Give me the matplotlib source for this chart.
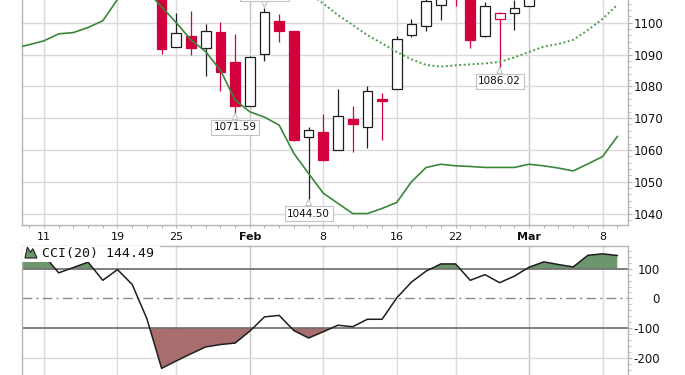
import numpy as np
import matplotlib
matplotlib.use("Agg")
import matplotlib.pyplot as plt
from matplotlib.patches import Rectangle, Polygon

# S&P 500 daily bars, Jan 7 - Mar 9 2010
days = ["Jan 7", "Jan 8", "Jan 11", "Jan 12", "Jan 13", "Jan 14", "Jan 15", "Jan 19",
        "Jan 20", "Jan 21", "Jan 22", "Jan 25", "Jan 26", "Jan 27", "Jan 28", "Jan 29",
        "Feb 1", "Feb 2", "Feb 3", "Feb 4", "Feb 5", "Feb 8", "Feb 9", "Feb 10",
        "Feb 11", "Feb 12", "Feb 16", "Feb 17", "Feb 18", "Feb 19", "Feb 22", "Feb 23",
        "Feb 24", "Feb 25", "Feb 26", "Mar 1", "Mar 2", "Mar 3", "Mar 4", "Mar 5",
        "Mar 8", "Mar 9"]
opens = [1136.27, 1140.52, 1145.96, 1143.81, 1137.31, 1145.68, 1147.72, 1136.03,
         1147.95, 1138.68, 1115.49, 1092.40, 1095.80, 1091.94, 1096.93, 1087.61,
         1073.89, 1090.05, 1100.67, 1097.25, 1064.12, 1065.51, 1060.06, 1069.68,
         1067.10, 1075.95, 1079.13, 1096.14, 1099.03, 1105.49, 1110.00, 1107.49,
         1095.89, 1101.24, 1103.10, 1105.36, 1117.01, 1119.36, 1119.12, 1125.12,
         1138.40, 1137.56]
highs = [1142.46, 1145.39, 1149.74, 1143.81, 1148.40, 1150.41, 1147.77, 1150.45,
         1147.95, 1141.58, 1115.49, 1102.97, 1103.69, 1099.51, 1100.22, 1096.45,
         1089.38, 1104.73, 1102.72, 1097.25, 1067.13, 1071.20, 1079.28, 1073.67,
         1080.04, 1077.81, 1095.67, 1101.03, 1108.24, 1112.42, 1112.29, 1108.58,
         1106.42, 1103.50, 1107.24, 1116.11, 1123.46, 1125.64, 1123.73, 1139.38,
         1141.05, 1145.37]
lows = [1131.32, 1136.22, 1142.02, 1131.77, 1133.18, 1143.80, 1131.39, 1135.77,
        1129.25, 1114.84, 1090.18, 1092.40, 1089.86, 1083.11, 1078.46, 1071.59,
        1073.89, 1087.96, 1093.97, 1062.78, 1044.50, 1056.51, 1060.06, 1059.34,
        1060.59, 1062.97, 1079.13, 1095.57, 1097.48, 1100.80, 1105.38, 1092.18,
        1095.50, 1086.02, 1097.56, 1105.36, 1116.51, 1116.58, 1116.66, 1125.12,
        1136.77, 1134.90]
closes = [1141.69, 1144.98, 1146.98, 1136.22, 1145.68, 1148.46, 1136.03, 1150.23,
          1138.04, 1116.48, 1091.76, 1096.78, 1092.17, 1097.50, 1084.53, 1073.87,
          1089.19, 1103.32, 1097.28, 1063.11, 1066.19, 1056.74, 1070.52, 1068.13,
          1078.47, 1075.51, 1094.87, 1099.51, 1106.75, 1109.17, 1108.01, 1094.60,
          1105.24, 1102.94, 1104.49, 1115.71, 1118.31, 1118.79, 1122.97, 1138.70,
          1138.50, 1140.45]

# Bollinger bands (20,2)
bb_lower = [1092.0, 1093.1, 1094.3, 1096.5, 1096.9, 1098.5, 1100.6, 1107.3,
            1112.0, 1110.0, 1105.0, 1100.0, 1094.6, 1090.9, 1085.1, 1075.7,
            1072.0, 1070.3, 1067.8, 1058.9, 1052.6, 1046.4, 1043.2, 1040.0,
            1040.0, 1041.6, 1043.5, 1050.0, 1054.5, 1055.5, 1055.0, 1054.8,
            1054.5, 1054.5, 1054.5, 1055.5, 1055.0, 1054.3, 1053.4, 1055.6,
            1057.9, 1064.2]
bb_middle = [1120.0, 1122.0, 1124.0, 1126.0, 1128.0, 1130.0, 1131.0, 1133.0,
             1134.0, 1134.0, 1133.0, 1131.0, 1129.0, 1127.0, 1124.0, 1121.0,
             1118.0, 1116.0, 1114.0, 1112.0, 1109.6, 1106.0, 1102.4, 1099.3,
             1096.1, 1093.5, 1090.8, 1088.5, 1086.7, 1086.2, 1086.6, 1086.9,
             1087.2, 1087.7, 1089.1, 1090.8, 1092.5, 1093.3, 1094.6, 1097.7,
             1101.2, 1105.6]

cci = [135, 150, 145, 86, 104, 122, 61, 97,
       47, -68, -235, -210, -186, -163, -155, -150,
       -110, -62, -57, -108, -133, -112, -90, -95,
       -70, -70, 2, 55, 92, 116, 116, 61,
       80, 53, 75, 105, 123, 114, 106, 145,
       150, 144.49]

tick_days = ["Jan 11", "Jan 19", "Jan 25", "Feb 1", "Feb 8", "Feb 16", "Feb 22", "Mar 1", "Mar 8"]
tick_labels = ["11", "19", "25", "Feb", "8", "16", "22", "Mar", "8"]
marked_lows = ["Jan 29", "Feb 5", "Feb 25"]
marked_highs = ["Feb 2"]

RED = "#d2003c"
BLACK = "#1e1e1e"
GREEN = "#3a873a"
GRID = "#dadada"
FRAME = "#b4b4b4"

plt.rcParams["axes.unicode_minus"] = False
plt.rcParams["font.family"] = "DejaVu Sans"

W, H = 685, 375
fig = plt.figure(figsize=(W / 100, H / 100), dpi=100)
left, right = 21.5, 627.7
ax = fig.add_axes([left / W, (H - 225) / H, (right - left) / W, 225 / H])
ax2 = fig.add_axes([left / W, (H - 385) / H, (right - left) / W, (385 - 245.5) / H], sharex=ax)

x = np.arange(len(days))
o, h, l, c = map(np.array, (opens, highs, lows, closes))
prev = np.r_[c[0], c[:-1]]
edge = [BLACK if c[i] >= prev[i] else RED for i in range(len(x))]
face = [edge[i] if c[i] < o[i] else "white" for i in range(len(x))]
tick_pos = [days.index(d) for d in tick_days]

# price panel
for p, lab in zip(tick_pos, tick_labels):
    strong = lab in ("Feb", "Mar")
    ax.axvline(p, color="#c6c6c6" if strong else GRID, lw=1.0, zorder=0)
    ax2.axvline(p, color="#c6c6c6" if strong else GRID, lw=1.0, zorder=0)
for v in range(1040, 1101, 10):
    ax.axhline(v, color=GRID, lw=1.0, zorder=0)

ax.vlines(x, l, h, colors=edge, lw=0.9, zorder=3)
ax.bar(x, np.maximum(np.abs(c - o), 0.3), bottom=np.minimum(o, c), width=0.66,
       color=face, edgecolor=edge, linewidth=0.9, zorder=4)
ax.plot(x, bb_lower, color=GREEN, lw=1.2, zorder=5)
ax.plot(x, bb_middle, color="#4e9a4e", lw=1.4, ls=(0, (1, 1.3)), zorder=5)

box = dict(boxstyle="square,pad=0.25", fc="white", ec="#c4c4c4", lw=0.8)
arrow = dict(arrowstyle="wedge,tail_width=0.55", fc="white", ec="#c4c4c4", lw=0.8,
             shrinkA=0, shrinkB=0)
for d in marked_lows:
    i = days.index(d)
    ax.annotate(f"{lows[i]:.2f}", xy=(i, lows[i]), xytext=(0, -10.3), textcoords="offset points",
                ha="center", va="center", fontsize=7.5, color="#111111", bbox=box,
                arrowprops=arrow, zorder=6)
for d in marked_highs:
    i = days.index(d)
    ax.annotate(f"{highs[i]:.2f}", xy=(i, highs[i]), xytext=(0, 10.3), textcoords="offset points",
                ha="center", va="center", fontsize=7.5, color="#111111", bbox=box,
                arrowprops=arrow, zorder=6)

ax.yaxis.tick_right()
ax.set_yticks(range(1040, 1101, 10))
ax.set_yticks(np.arange(1038, 1107, 2), minor=True)
ax.tick_params(axis="y", which="major", length=3, width=0.8, color=FRAME, pad=1.4,
               labelsize=8.5, labelcolor="#111111")
ax.tick_params(axis="y", which="minor", length=2, width=0.6, color=FRAME)
ax.set_xticks(tick_pos)
ax.set_xticklabels(tick_labels)
ax.set_xticks(x[1:], minor=True)
ax.tick_params(axis="x", which="both", length=2.3, width=0.7, color=FRAME, pad=2.5,
               labelsize=8, labelcolor="#111111")
for t in ax.get_xticklabels():
    if t.get_text() in ("Feb", "Mar"):
        t.set_fontweight("bold")
ax.spines["top"].set_visible(False)
for s in ("left", "right", "bottom"):
    ax.spines[s].set_color(FRAME)
    ax.spines[s].set_linewidth(1.0)

# CCI panel
cci_a = np.array(cci, dtype=float)
ax2.fill_between(x, cci_a, 100, where=cci_a >= 100, interpolate=True,
                 color="#6c966c", lw=0, zorder=1)
ax2.fill_between(x, cci_a, -100, where=cci_a <= -100, interpolate=True,
                 color="#a86d6d", lw=0, zorder=1)
ax2.axhline(-200, color=GRID, lw=1.0, zorder=0)
ax2.axhline(100, color="#6a6a6a", lw=1.2, zorder=2)
ax2.axhline(-100, color="#6a6a6a", lw=1.2, zorder=2)
ax2.axhline(0, color="#8a8a8a", lw=1.0, ls=(0, (7, 3, 1.5, 3)), zorder=2)
ax2.plot(x, cci_a, color=BLACK, lw=1.1, zorder=3)

ax2.yaxis.tick_right()
ax2.set_yticks([-200, -100, 0, 100])
ax2.set_yticks(np.arange(-280, 180, 20), minor=True)
ax2.tick_params(axis="y", which="major", length=3, width=0.8, color=FRAME, pad=19.9,
                labelsize=8.5, labelcolor="#111111")
ax2.tick_params(axis="y", which="minor", length=2, width=0.6, color=FRAME)
for t in ax2.get_yticklabels():
    t.set_horizontalalignment("right")
ax2.tick_params(axis="x", which="both", length=0, labelbottom=False)
ax2.spines["bottom"].set_visible(False)
for s in ("left", "right", "top"):
    ax2.spines[s].set_color(FRAME)
    ax2.spines[s].set_linewidth(1.0)

# legend label with small icon
aw, ah = right - left, 385 - 245.5
ax2.add_patch(Rectangle((0, (385 - 261.5) / ah), (160 - left) / aw, 1, transform=ax2.transAxes,
                        fc="white", ec="none", zorder=3.5))
ix0, ix1 = (25 - left) / aw, (37 - left) / aw
iy0, iy1 = (385 - 258) / ah, (385 - 247) / ah
icon = [(0, 0), (0.2, 1), (0.45, 0.5), (0.65, 0.85), (1, 0)]
ax2.add_patch(Polygon([(ix0 + px * (ix1 - ix0), iy0 + py * (iy1 - iy0)) for px, py in icon],
                      closed=True, transform=ax2.transAxes, fc="#6c966c", ec="#1e1e1e",
                      lw=0.8, zorder=3.6))
ax2.text((41.7 - left) / aw, (385 - 254) / ah, f"CCI(20) {cci[-1]:.2f}", transform=ax2.transAxes,
         family="DejaVu Sans Mono", fontsize=9.5, color="#111111", va="center", ha="left",
         zorder=3.7)

# limits last, so tick setting cannot widen them
ax.set_xlim(0.47, 41.71)
ax.set_ylim(1036.4, 1107.14)
ax2.set_ylim(-291, 178)

fig.savefig("out.png", dpi=100)
